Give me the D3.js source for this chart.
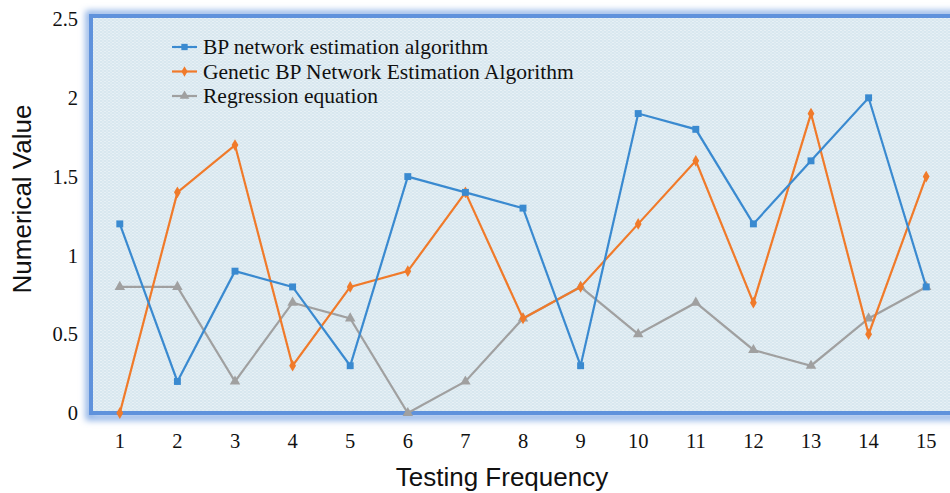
<!DOCTYPE html>
<html><head><meta charset="utf-8">
<script src="https://cdn.jsdelivr.net/npm/d3@7"></script>
<style>body{margin:0;background:#fff}svg{display:block}</style>
</head><body>
<script>
const categories = ["1","2","3","4","5","6","7","8","9","10","11","12","13","14","15"];
const bpValues = [1.2,0.2,0.9,0.8,0.3,1.5,1.4,1.3,0.3,1.9,1.8,1.2,1.6,2.0,0.8];
const geneticValues = [0,1.4,1.7,0.3,0.8,0.9,1.4,0.6,0.8,1.2,1.6,0.7,1.9,0.5,1.5];
const regressionValues = [0.8,0.8,0.2,0.7,0.6,0,0.2,0.6,0.8,0.5,0.7,0.4,0.3,0.6,0.8];
const yTicks = [0,0.5,1,1.5,2,2.5];
const seriesNames = ["BP network estimation algorithm","Genetic BP Network Estimation Algorithm","Regression equation"];
const seriesColors = ["#3a8ad0","#f07a2a","#a0a0a0"];
const seriesShapes = [d3.symbolSquare, d3.symbolDiamond, d3.symbolTriangle];

(function(){
const W=950,H=493;
const svg=d3.select("body").append("svg").attr("width",W).attr("height",H);
const pL=91,pR=955,pT=16,pB=413;
const x=d3.scaleBand().domain(categories).range([pL,pR]);
const y=d3.scaleLinear().domain([0,2.5]).range([pB,pT+3]);

const defs=svg.append("defs");
const pat=defs.append("pattern").attr("id","tex").attr("width",4).attr("height",3).attr("patternUnits","userSpaceOnUse");
pat.append("rect").attr("width",4).attr("height",3).attr("fill","#d8e7ef");
pat.append("rect").attr("x",0).attr("y",0).attr("width",2).attr("height",1).attr("fill","#e8f1f6");
pat.append("rect").attr("x",2).attr("y",1.5).attr("width",2).attr("height",1).attr("fill","#e8f1f6");
const f=defs.append("filter").attr("id","glow").attr("x","-5%").attr("y","-10%").attr("width","110%").attr("height","120%");
f.append("feGaussianBlur").attr("stdDeviation",3);

svg.append("rect").attr("x",pL-2).attr("y",pT-2).attr("width",pR-pL+10).attr("height",pB-pT+6)
  .attr("fill","none").attr("stroke","#8fb2e6").attr("stroke-width",7).attr("filter","url(#glow)");
svg.append("rect").attr("x",pL).attr("y",pT).attr("width",pR-pL).attr("height",pB-pT)
  .attr("fill","url(#tex)").attr("stroke","#5f92dc").attr("stroke-width",4);

svg.append("g").selectAll("text").data(yTicks).join("text")
  .attr("x",78).attr("text-anchor","end").attr("y",d=>y(d)).attr("dy","0.35em")
  .attr("font-family","Liberation Serif, serif").attr("font-size",20.5).attr("fill","#111")
  .text(d=>d);
svg.append("g").selectAll("text").data(categories).join("text")
  .attr("x",d=>x(d)+x.bandwidth()/2).attr("y",448).attr("text-anchor","middle")
  .attr("font-family","Liberation Serif, serif").attr("font-size",20.5).attr("fill","#111")
  .text(d=>d);

svg.append("text").attr("transform","translate(31,199) rotate(-90)").attr("text-anchor","middle")
  .attr("font-family","Liberation Sans, Arial, sans-serif").attr("font-size",26).attr("fill","#111").text("Numerical Value");
svg.append("text").attr("x",502).attr("y",486).attr("text-anchor","middle")
  .attr("font-family","Liberation Sans, Arial, sans-serif").attr("font-size",26).attr("fill","#111").text("Testing Frequency");

const allSeries=[bpValues,geneticValues,regressionValues];
const line=d3.line().x((d,i)=>x(categories[i])+x.bandwidth()/2).y(d=>y(d));
[2,1,0].forEach(si=>{
  const vals=allSeries[si];
  svg.append("path").attr("d",line(vals)).attr("fill","none").attr("stroke",seriesColors[si]).attr("stroke-width",2.2);
  svg.append("g").selectAll("path").data(vals).join("path")
    .attr("transform",(d,i)=>`translate(${x(categories[i])+x.bandwidth()/2},${y(d)})`)
    .attr("d",d3.symbol().type(seriesShapes[si]).size(si===1?40:48))
    .attr("fill",seriesColors[si]);
});

const lg=svg.append("g");
seriesNames.forEach((n,i)=>{
  const ly=47+i*24.5;
  lg.append("line").attr("x1",172).attr("x2",197).attr("y1",ly).attr("y2",ly).attr("stroke",seriesColors[i]).attr("stroke-width",2.2);
  lg.append("path").attr("transform",`translate(184.5,${ly})`).attr("d",d3.symbol().type(seriesShapes[i]).size(i===1?32:40)).attr("fill",seriesColors[i]);
  lg.append("text").attr("x",203).attr("y",ly).attr("dy","0.33em")
    .attr("font-family","Liberation Serif, serif").attr("font-size",21.5).attr("fill","#111").text(n);
});
})();
</script>
</body></html>
